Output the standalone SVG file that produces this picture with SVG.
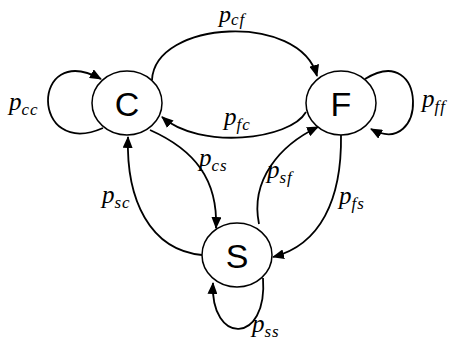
<svg xmlns="http://www.w3.org/2000/svg" width="457" height="350" viewBox="0 0 457 350">
<style>
.node ellipse{fill:#fff;stroke:#000;stroke-width:1.5}
.node text{font-family:"Liberation Sans",Arial,sans-serif;font-size:34px;text-anchor:middle;fill:#000}
.edge{fill:none;stroke:#000;stroke-width:1.8;marker-end:url(#arr)}
.lbl{font-family:"Liberation Serif","Times New Roman",serif;font-style:italic;font-size:25px;fill:#000}
.lbl tspan{font-size:17px;letter-spacing:1px}
</style>
<defs>
<marker id="arr" viewBox="0 0 12 10" refX="11" refY="5" markerWidth="12" markerHeight="10" markerUnits="userSpaceOnUse" orient="auto">
<path d="M0,0 L12,5 L0,10 Z" fill="#000"/>
</marker>
</defs>
<g id="connectors">
<path class="edge" d="M152,80 C155,20 300,12 317,76"/>
<path class="edge" d="M306,112 C290,140 200,150 162,117"/>
<path class="edge" d="M103,128 C30,160 30,40 101,79"/>
<path class="edge" d="M365,79 C428,40 428,160 371,129"/>
<path class="edge" d="M150,130 C195,150 218,180 216,228"/>
<path class="edge" d="M202,255 C150,250 126,200 128,137"/>
<path class="edge" d="M259,224 C250,180 280,145 318,127"/>
<path class="edge" d="M341,135 C342,200 320,245 273,257"/>
<path class="edge" d="M263,278 C268,345 210,345 213,283"/>
</g>
<g id="node-C" class="node"><ellipse cx="127" cy="103" rx="35" ry="32"/><text x="127" y="116">C</text></g>
<g id="node-F" class="node"><ellipse cx="341" cy="103" rx="35" ry="32"/><text x="341" y="116">F</text></g>
<g id="node-S" class="node"><ellipse cx="237" cy="255" rx="35" ry="32"/><text x="237" y="268">S</text></g>
<g id="labels">
<text class="lbl" x="219" y="22" style="font-size:24px">p<tspan dy="3">cf</tspan></text>
<text class="lbl" x="9" y="110">p<tspan dy="5">cc</tspan></text>
<text class="lbl" x="422" y="107">p<tspan dy="5">ff</tspan></text>
<text class="lbl" x="224" y="125">p<tspan dy="5">fc</tspan></text>
<text class="lbl" x="199" y="166">p<tspan dy="5">cs</tspan></text>
<text class="lbl" x="267" y="178">p<tspan dy="5">sf</tspan></text>
<text class="lbl" x="102" y="203">p<tspan dy="5">sc</tspan></text>
<text class="lbl" x="339" y="204">p<tspan dy="5">fs</tspan></text>
<text class="lbl" x="252" y="332">p<tspan dy="5">ss</tspan></text>
</g>
</svg>
